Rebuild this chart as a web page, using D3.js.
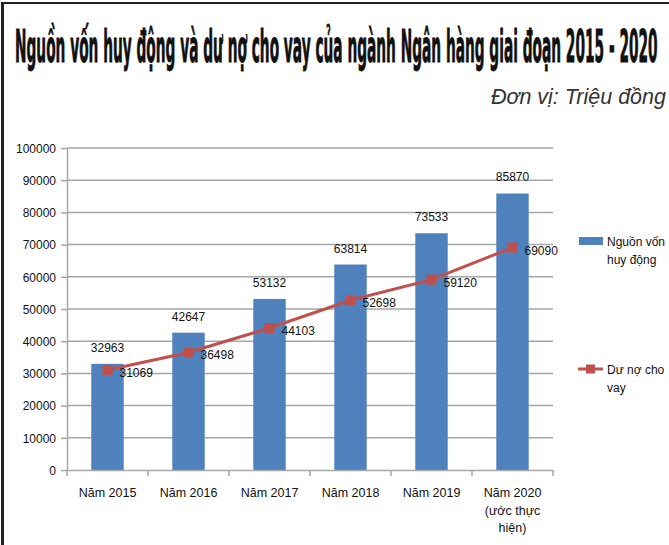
<!DOCTYPE html>
<html>
<head>
<meta charset="utf-8">
<script src="https://cdn.jsdelivr.net/npm/d3@7"></script>
<style>
  body { margin: 0; background: #fff; }
  text { font-family: "Liberation Sans", Arial, sans-serif; fill: #111; }
</style>
</head>
<body>
<svg id="chart" width="669" height="545"></svg>
<script>
// categories (x labels may wrap onto several lines)
const YEARS = [
  ["Năm 2015"],
  ["Năm 2016"],
  ["Năm 2017"],
  ["Năm 2018"],
  ["Năm 2019"],
  ["Năm 2020", "(ước thực", "hiện)"]
];

// Nguồn vốn huy động (bars)
const FUNDS = [32963, 42647, 53132, 63814, 73533, 85870];

// Dư nợ cho vay (line)
const LOANS = [31069, 36498, 44103, 52698, 59120, 69090];

const Y_TICKS = [0, 10000, 20000, 30000, 40000, 50000, 60000, 70000, 80000, 90000, 100000];

const LEGEND = [
  {lines: ["Nguồn vốn", "huy động"], type: "bar"},
  {lines: ["Dư nợ cho", "vay"], type: "line"}
];

const TITLE = "Nguồn vốn huy động và dư nợ cho vay của ngành Ngân hàng giai đoạn 2015 - 2020";
const UNIT = "Đơn vị: Triệu đồng";

const BLUE = "#4f81bd";
const RED = "#c0504d";

const svg = d3.select("#chart");

// frame: thick left + top border
svg.append("line").attr("x1", 2.5).attr("x2", 2.5).attr("y1", 2).attr("y2", 545)
  .attr("stroke", "#222").attr("stroke-width", 3);
svg.append("line").attr("x1", 1).attr("x2", 669).attr("y1", 3).attr("y2", 3)
  .attr("stroke", "#222").attr("stroke-width", 2);

// title, squeezed horizontally like the condensed poster font
const title = svg.append("text")
  .attr("x", 0).attr("y", 0)
  .style("font-family", "'DejaVu Sans Condensed', 'Liberation Sans Narrow', sans-serif")
  .style("font-weight", "bold")
  .style("font-size", "44px")
  .style("fill", "#111")
  .style("stroke", "#111").style("stroke-width", 0.9)
  .text(TITLE);
const natural = title.node().getComputedTextLength();
title.attr("transform", `translate(15,62) scale(${643 / natural},1)`);

svg.append("text")
  .attr("x", 666).attr("y", 104)
  .attr("text-anchor", "end")
  .style("font-style", "italic")
  .style("font-size", "21.5px")
  .style("fill", "#333")
  .text(UNIT);

// plot area
const plotL = 67, plotR = 553, plotT = 148, plotB = 470;

const x = d3.scaleBand()
  .domain(d3.range(YEARS.length))
  .range([plotL, plotR])
  .paddingInner(0.6)
  .paddingOuter(0.3);

const xOuter = d3.scaleBand()
  .domain(d3.range(YEARS.length))
  .range([plotL, plotR]);

const y = d3.scaleLinear()
  .domain([0, 100000])
  .range([plotB, plotT]);

// gridlines + y axis
const yAxis = svg.append("g")
  .attr("transform", `translate(${plotL},0)`)
  .call(d3.axisLeft(y).tickValues(Y_TICKS).tickSize(6).tickSizeOuter(0).tickFormat(d3.format("d")));
yAxis.select(".domain").attr("stroke", "#a6a6a6").attr("stroke-width", 1.5);
yAxis.selectAll(".tick line").attr("stroke", "#a6a6a6").attr("stroke-width", 1.5);
yAxis.selectAll(".tick text").attr("x", -11).attr("dy", "0.35em")
  .style("font-size", "12px").style("fill", "#111");

svg.append("g").selectAll("line")
  .data(Y_TICKS.filter(d => d > 0))
  .join("line")
  .attr("x1", plotL).attr("x2", plotR)
  .attr("y1", d => y(d)).attr("y2", d => y(d))
  .attr("stroke", "#a6a6a6").attr("stroke-width", 1.5);

// bars
svg.append("g").selectAll("rect")
  .data(FUNDS)
  .join("rect")
  .attr("x", (d, i) => x(i))
  .attr("y", d => y(d))
  .attr("width", x.bandwidth())
  .attr("height", d => plotB - y(d))
  .attr("fill", BLUE);

svg.append("g").selectAll("text")
  .data(FUNDS)
  .join("text")
  .attr("x", (d, i) => x(i) + x.bandwidth() / 2)
  .attr("y", d => y(d) - 12)
  .attr("text-anchor", "middle")
  .style("font-size", "12px")
  .text(d => d);

// x axis
const xAxis = svg.append("g")
  .attr("transform", `translate(0,${plotB})`)
  .call(d3.axisBottom(xOuter).tickSize(0).tickFormat(""));
xAxis.select(".domain").attr("stroke", "#a6a6a6").attr("stroke-width", 1.5);
svg.append("g").selectAll("line")
  .data(d3.range(YEARS.length + 1))
  .join("line")
  .attr("x1", i => plotL + i * xOuter.bandwidth())
  .attr("x2", i => plotL + i * xOuter.bandwidth())
  .attr("y1", plotB).attr("y2", plotB + 6)
  .attr("stroke", "#a6a6a6").attr("stroke-width", 1.5);

const xl = svg.append("g").selectAll("text")
  .data(YEARS)
  .join("text")
  .attr("x", (d, i) => xOuter(i) + xOuter.bandwidth() / 2)
  .attr("y", 497)
  .attr("text-anchor", "middle")
  .style("font-size", "12.5px");
xl.selectAll("tspan")
  .data(d => d)
  .join("tspan")
  .attr("x", function () { return d3.select(this.parentNode).attr("x"); })
  .attr("dy", (d, j) => j === 0 ? 0 : 17.5)
  .text(d => d);

// line
const cx = i => x(i) + x.bandwidth() / 2;
svg.append("path")
  .datum(LOANS)
  .attr("d", d3.line().x((d, i) => cx(i)).y(d => y(d)))
  .attr("fill", "none")
  .attr("stroke", RED)
  .attr("stroke-width", 3);

svg.append("g").selectAll("rect")
  .data(LOANS)
  .join("rect")
  .attr("x", (d, i) => cx(i) - 5)
  .attr("y", d => y(d) - 5)
  .attr("width", 10).attr("height", 10)
  .attr("fill", RED);

svg.append("g").selectAll("text")
  .data(LOANS)
  .join("text")
  .attr("x", (d, i) => cx(i) + 12)
  .attr("y", d => y(d) + 7)
  .style("font-size", "12px")
  .text(d => d);

// legend
const lg = svg.append("g");
const legendY = [241, 369];
LEGEND.forEach((item, k) => {
  const ly = legendY[k];
  if (item.type === "bar") {
    lg.append("rect").attr("x", 579).attr("y", ly - 4).attr("width", 24).attr("height", 8).attr("fill", BLUE);
  } else {
    lg.append("line").attr("x1", 578).attr("x2", 603).attr("y1", ly).attr("y2", ly)
      .attr("stroke", RED).attr("stroke-width", 3);
    lg.append("rect").attr("x", 586).attr("y", ly - 4.5).attr("width", 9).attr("height", 9).attr("fill", RED);
  }
  const t = lg.append("text").attr("x", 607).attr("y", ly + 4.5).style("font-size", "12px");
  item.lines.forEach((s, j) => {
    t.append("tspan").attr("x", 607).attr("dy", j === 0 ? 0 : 18).text(s);
  });
});
</script>
</body>
</html>
